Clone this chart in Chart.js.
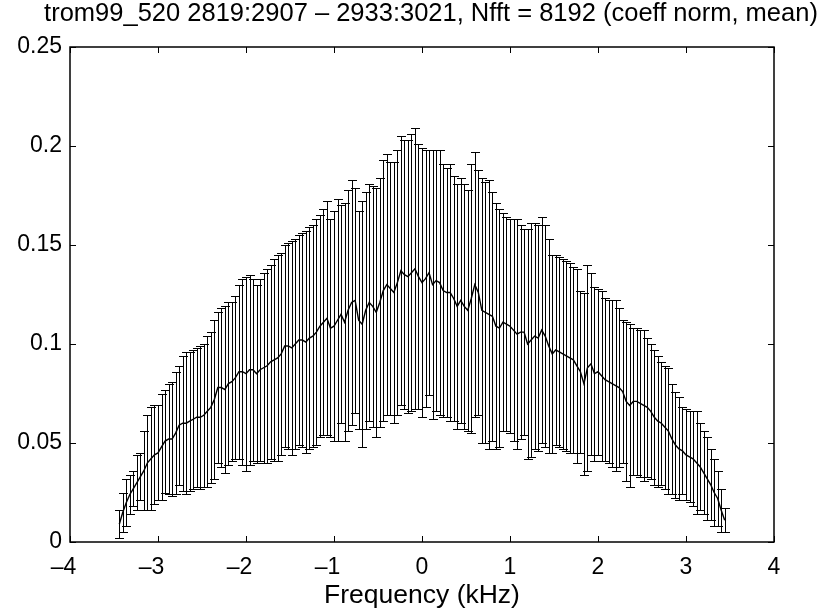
<!DOCTYPE html>
<html>
<head>
<meta charset="utf-8">
<script src="https://cdn.jsdelivr.net/npm/chart.js@4.4.0/dist/chart.umd.min.js"></script>
<style>
  body { margin: 0; background: #fff; }
  #wrap { width: 833px; height: 614px; }
</style>
</head>
<body>
<div id="wrap"><canvas id="myErrorChart"></canvas></div>
<script>
// frequency bins (kHz)
var freqKHz = [
  -3.44, -3.40, -3.36, -3.32, -3.28, -3.24, -3.20, -3.16, -3.12, -3.08,
  -3.04, -3.00, -2.96, -2.92, -2.88, -2.84, -2.80, -2.76, -2.72, -2.68,
  -2.64, -2.60, -2.56, -2.52, -2.48, -2.44, -2.40, -2.36, -2.32, -2.28,
  -2.24, -2.20, -2.16, -2.12, -2.08, -2.04, -2.00, -1.96, -1.92, -1.88,
  -1.84, -1.80, -1.76, -1.72, -1.68, -1.64, -1.60, -1.56, -1.52, -1.48,
  -1.44, -1.40, -1.36, -1.32, -1.28, -1.24, -1.20, -1.16, -1.12, -1.08,
  -1.04, -1.00, -0.96, -0.92, -0.88, -0.84, -0.80, -0.76, -0.72, -0.68,
  -0.64, -0.60, -0.56, -0.52, -0.48, -0.44, -0.40, -0.36, -0.32, -0.28,
  -0.24, -0.20, -0.16, -0.12, -0.08, -0.04, 0.00, 0.04, 0.08, 0.12,
  0.16, 0.20, 0.24, 0.28, 0.32, 0.36, 0.40, 0.44, 0.48, 0.52,
  0.56, 0.60, 0.64, 0.68, 0.72, 0.76, 0.80, 0.84, 0.88, 0.92,
  0.96, 1.00, 1.04, 1.08, 1.12, 1.16, 1.20, 1.24, 1.28, 1.32,
  1.36, 1.40, 1.44, 1.48, 1.52, 1.56, 1.60, 1.64, 1.68, 1.72,
  1.76, 1.80, 1.84, 1.88, 1.92, 1.96, 2.00, 2.04, 2.08, 2.12,
  2.16, 2.20, 2.24, 2.28, 2.32, 2.36, 2.40, 2.44, 2.48, 2.52,
  2.56, 2.60, 2.64, 2.68, 2.72, 2.76, 2.80, 2.84, 2.88, 2.92,
  2.96, 3.00, 3.04, 3.08, 3.12, 3.16, 3.20, 3.24, 3.28, 3.32,
  3.36, 3.40, 3.44
];

// mean normalised coefficient per bin
var meanCoeff = [
  0.009, 0.015, 0.020, 0.024, 0.027, 0.030, 0.033, 0.036, 0.040, 0.042,
  0.044, 0.045, 0.048, 0.051, 0.052, 0.052, 0.055, 0.059, 0.060, 0.060,
  0.061, 0.062, 0.063, 0.063, 0.064, 0.066, 0.068, 0.072, 0.078, 0.078,
  0.077, 0.080, 0.081, 0.083, 0.086, 0.086, 0.085, 0.087, 0.087, 0.085,
  0.087, 0.088, 0.089, 0.091, 0.092, 0.093, 0.095, 0.099, 0.099, 0.098,
  0.100, 0.102, 0.102, 0.101, 0.103, 0.104, 0.106, 0.109, 0.111, 0.113,
  0.108, 0.109, 0.112, 0.115, 0.111, 0.117, 0.121, 0.122, 0.112, 0.110,
  0.117, 0.121, 0.119, 0.116, 0.121, 0.127, 0.130, 0.128, 0.126, 0.131,
  0.137, 0.135, 0.134, 0.136, 0.138, 0.134, 0.131, 0.133, 0.136, 0.130,
  0.132, 0.131, 0.127, 0.126, 0.126, 0.123, 0.119, 0.122, 0.119, 0.117,
  0.123, 0.130, 0.126, 0.117, 0.116, 0.115, 0.114, 0.109, 0.108, 0.111,
  0.110, 0.109, 0.107, 0.105, 0.106, 0.106, 0.100, 0.102, 0.104, 0.103,
  0.107, 0.104, 0.099, 0.095, 0.097, 0.096, 0.095, 0.094, 0.093, 0.092,
  0.089, 0.086, 0.080, 0.088, 0.090, 0.085, 0.086, 0.084, 0.082, 0.081,
  0.080, 0.079, 0.078, 0.076, 0.071, 0.069, 0.071, 0.071, 0.070, 0.069,
  0.068, 0.066, 0.063, 0.061, 0.060, 0.058, 0.056, 0.052, 0.049, 0.047,
  0.046, 0.044, 0.043, 0.042, 0.040, 0.038, 0.035, 0.032, 0.029, 0.025,
  0.022, 0.016, 0.011
];

// half length of each error bar
var errCoeff = [
  0.007, 0.010, 0.012, 0.010, 0.009, 0.014, 0.012, 0.020, 0.024, 0.026,
  0.025, 0.024, 0.027, 0.026, 0.028, 0.029, 0.031, 0.030, 0.034, 0.036,
  0.035, 0.035, 0.035, 0.036, 0.036, 0.038, 0.038, 0.040, 0.038, 0.040,
  0.042, 0.041, 0.040, 0.041, 0.044, 0.047, 0.049, 0.048, 0.046, 0.045,
  0.046, 0.048, 0.049, 0.049, 0.051, 0.052, 0.051, 0.051, 0.052, 0.054,
  0.053, 0.053, 0.054, 0.056, 0.056, 0.056, 0.057, 0.056, 0.057, 0.059,
  0.055, 0.058, 0.061, 0.055, 0.060, 0.061, 0.062, 0.057, 0.055, 0.062,
  0.060, 0.060, 0.061, 0.063, 0.063, 0.066, 0.066, 0.064, 0.066, 0.067,
  0.068, 0.068, 0.069, 0.070, 0.071, 0.067, 0.068, 0.065, 0.062, 0.068,
  0.066, 0.067, 0.064, 0.063, 0.065, 0.062, 0.062, 0.062, 0.062, 0.061,
  0.068, 0.067, 0.062, 0.067, 0.066, 0.068, 0.063, 0.062, 0.060, 0.055,
  0.054, 0.054, 0.056, 0.058, 0.054, 0.052, 0.058, 0.059, 0.057, 0.057,
  0.057, 0.056, 0.054, 0.050, 0.048, 0.048, 0.048, 0.048, 0.048, 0.047,
  0.049, 0.041, 0.046, 0.052, 0.046, 0.044, 0.042, 0.043, 0.041, 0.041,
  0.042, 0.043, 0.040, 0.036, 0.040, 0.041, 0.037, 0.037, 0.037, 0.038,
  0.035, 0.034, 0.034, 0.033, 0.031, 0.031, 0.032, 0.028, 0.027, 0.026,
  0.022, 0.023, 0.023, 0.024, 0.026, 0.022, 0.021, 0.021, 0.018, 0.017,
  0.014, 0.011, 0.006
];

var xTicks = [-4, -3, -2, -1, 0, 1, 2, 3, 4];
var yTicks = [0, 0.05, 0.1, 0.15, 0.2, 0.25];

var titleText = 'trom99_520 2819:2907 \u2013 2933:3021, Nfft = 8192 (coeff norm, mean)';
var xLabel = 'Frequency (kHz)';

var fontFamily = "'Liberation Sans', Arial, Helvetica, sans-serif";
Chart.defaults.color = '#000';
Chart.defaults.font.family = fontFamily;

// vertical error bars with caps, drawn under the mean line
var errorBarPlugin = {
  id: 'errorBars',
  beforeDatasetsDraw: function(chart) {
    var ctx = chart.ctx;
    var xs = chart.scales.x;
    var ys = chart.scales.y;
    ctx.save();
    ctx.strokeStyle = '#000';
    ctx.lineWidth = 1;
    ctx.beginPath();
    for (var i = 0; i < freqKHz.length; i++) {
      var px = Math.round(xs.getPixelForValue(freqKHz[i])) + 0.5;
      var top = Math.round(ys.getPixelForValue(meanCoeff[i] + errCoeff[i])) + 0.5;
      var bot = Math.round(ys.getPixelForValue(meanCoeff[i] - errCoeff[i])) + 0.5;
      ctx.moveTo(px, top);
      ctx.lineTo(px, bot);
      ctx.moveTo(px - 4.5, top);
      ctx.lineTo(px + 4.5, top);
      ctx.moveTo(px - 4.5, bot);
      ctx.lineTo(px + 4.5, bot);
    }
    ctx.stroke();
    ctx.restore();
  }
};

// matlab style box with inward ticks on all four sides, plus the title
var boxPlugin = {
  id: 'axesBox',
  afterDraw: function(chart) {
    var ctx = chart.ctx;
    var a = chart.chartArea;
    var xs = chart.scales.x;
    var ys = chart.scales.y;
    var len = 6;
    ctx.save();
    ctx.strokeStyle = '#000';
    ctx.lineWidth = 1;
    ctx.beginPath();
    xTicks.forEach(function(v) {
      var px = Math.round(xs.getPixelForValue(v)) + 0.5;
      ctx.moveTo(px, a.bottom); ctx.lineTo(px, a.bottom - len);
      ctx.moveTo(px, a.top); ctx.lineTo(px, a.top + len);
    });
    yTicks.forEach(function(v) {
      var py = Math.round(ys.getPixelForValue(v)) + 0.5;
      ctx.moveTo(a.left, py); ctx.lineTo(a.left + len, py);
      ctx.moveTo(a.right, py); ctx.lineTo(a.right - len, py);
    });
    ctx.stroke();
    ctx.lineWidth = 1.5;
    ctx.strokeRect(a.left, a.top, a.right - a.left, a.bottom - a.top);

    // title sits a little right of the axes centre, as in the original figure
    ctx.fillStyle = '#000';
    ctx.font = '25.5px ' + fontFamily;
    ctx.textAlign = 'center';
    ctx.textBaseline = 'middle';
    ctx.fillText(titleText, 431, 14);
    ctx.restore();
  }
};

var ctx = document.getElementById('myErrorChart').getContext('2d');
var chart = new Chart(ctx, {
  type: 'line',
  data: {
    datasets: [{
      label: 'mean',
      data: freqKHz.map(function(f, i) { return { x: f, y: meanCoeff[i] }; }),
      borderColor: '#000',
      borderWidth: 1.4,
      pointRadius: 0,
      fill: false,
      tension: 0
    }]
  },
  options: {
    animation: false,
    responsive: true,
    maintainAspectRatio: false,
    layout: { padding: { left: 0, right: 59, top: 47, bottom: 0 } },
    plugins: {
      legend: { display: false },
      tooltip: { enabled: false },
      title: { display: false }
    },
    scales: {
      x: {
        type: 'linear',
        min: -4,
        max: 4,
        afterBuildTicks: function(scale) {
          scale.ticks = xTicks.map(function(v) { return { value: v }; });
        },
        afterFit: function(scale) { scale.height = 72; },
        grid: { display: false, drawTicks: false },
        border: { display: false },
        ticks: {
          font: { size: 23 },
          color: '#000',
          padding: 12,
          maxRotation: 0,
          // matlab centres the digits on the tick, the minus hangs to the left
          callback: function(v) {
            return v < 0 ? '\u2013' + Math.abs(v) + '  ' : String(v);
          }
        },
        title: {
          display: true,
          text: xLabel,
          color: '#000',
          font: { size: 26.5 },
          padding: { top: 0, bottom: 2 }
        }
      },
      y: {
        min: 0,
        max: 0.25,
        afterBuildTicks: function(scale) {
          scale.ticks = yTicks.map(function(v) { return { value: v }; });
        },
        afterFit: function(scale) { scale.width = 70; },
        grid: { display: false, drawTicks: false },
        border: { display: false },
        ticks: {
          font: { size: 23 },
          color: '#000',
          padding: 8,
          callback: function(v) { return String(v); }
        }
      }
    }
  },
  plugins: [errorBarPlugin, boxPlugin]
});
</script>
</body>
</html>
